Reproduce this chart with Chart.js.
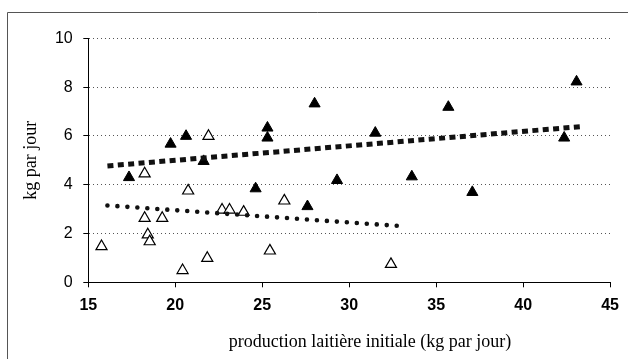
<!DOCTYPE html>
<html><head><meta charset="utf-8">
<script src="https://cdn.jsdelivr.net/npm/chart.js@4"></script>
<style>html,body{margin:0;padding:0;background:#fff}#wrap{width:628px;height:359px}</style>
</head><body><div id="wrap"><canvas id="c" width="628" height="359"></canvas></div>
<script>
// Filled triangles (series 1)
const filledX = [17.34, 19.73, 20.62, 21.63, 24.62, 25.30, 25.30, 27.60, 28.01, 29.30, 31.50, 33.60, 35.70, 37.08, 42.36, 43.07];
const filledY = [4.30, 5.67, 5.99, 4.96, 3.84, 6.33, 5.92, 3.11, 7.32, 4.18, 6.12, 4.33, 7.18, 3.69, 5.92, 8.22];
// Open triangles (series 2)
const openX = [15.76, 18.24, 18.24, 19.25, 18.42, 18.53, 20.74, 20.42, 21.91, 21.84, 22.69, 23.12, 23.93, 25.44, 26.27, 32.40];
const openY = [1.47, 4.45, 2.63, 2.63, 1.95, 1.67, 3.75, 0.49, 5.99, 0.99, 2.97, 2.97, 2.88, 1.29, 3.34, 0.74];
// Trend lines (end points)
const trendFilledX = [16.1, 43.3];
const trendFilledY = [4.77, 6.38];
const trendOpenX = [16.1, 32.85];
const trendOpenY = [3.15, 2.31];
// Ticks and labels
const xTicks = [15, 20, 25, 30, 35, 40, 45];
const yTicks = [0, 2, 4, 6, 8, 10];
const xTitle = 'production laitière initiale (kg par jour)';
const yTitle = 'kg par jour';

const pts = (xs, ys) => xs.map((x, i) => ({x: x, y: ys[i]}));

const framePlugin = {
  id: 'frame',
  beforeDraw(chart) {
    const ctx = chart.ctx;
    ctx.save();
    ctx.fillStyle = '#fff';
    ctx.fillRect(0, 0, chart.width, chart.height);
    ctx.strokeStyle = '#555';
    ctx.lineWidth = 1;
    ctx.beginPath();
    ctx.moveTo(7.5, chart.height);
    ctx.lineTo(7.5, 12.5);
    ctx.lineTo(chart.width, 12.5);
    ctx.stroke();
    ctx.restore();
  },
  afterDraw(chart) {
    const ctx = chart.ctx;
    ctx.save();
    ctx.fillStyle = '#000';
    ctx.font = '18px "Liberation Serif"';
    ctx.textAlign = 'center';
    ctx.textBaseline = 'middle';
    ctx.fillText(xTitle, 370, 342);
    ctx.restore();
  }
};

new Chart(document.getElementById('c'), {
  type: 'scatter',
  data: {
    datasets: [
      {
        data: pts(trendFilledX, trendFilledY),
        showLine: true, pointRadius: 0, borderColor: '#111', borderWidth: 5,
        borderDash: [6, 4.4], borderCapStyle: 'butt', fill: false
      },
      {
        data: pts(trendOpenX, trendOpenY),
        showLine: true, pointRadius: 0, borderColor: '#111', borderWidth: 4.6,
        borderDash: [0, 10], borderCapStyle: 'round', fill: false
      },
      {
        data: pts(filledX, filledY),
        pointStyle: 'triangle', pointRadius: 6.4, backgroundColor: '#000', borderColor: '#000', borderWidth: 1
      },
      {
        data: pts(openX, openY),
        pointStyle: 'triangle', pointRadius: 6.4, backgroundColor: '#fff', borderColor: '#000', borderWidth: 1.2
      }
    ]
  },
  options: {
    responsive: false,
    animation: false,
    devicePixelRatio: 1,
    layout: { padding: { top: 38.3, right: 17, bottom: 0, left: 0 } },
    plugins: { legend: { display: false }, tooltip: { enabled: false } },
    scales: {
      x: {
        type: 'linear', min: 15, max: 45,
        afterBuildTicks: s => { s.ticks = xTicks.map(v => ({value: v})); },
        afterFit: s => { s.height = 76.7; },
        ticks: { color: '#000', padding: 9, maxRotation: 0, autoSkip: false,
                 font: { family: 'Liberation Sans', size: 16, weight: 'bold' } },
        grid: { drawOnChartArea: false, tickLength: 5, color: '#000' },
        border: { color: '#000', width: 1 }
      },
      y: {
        type: 'linear', min: 0, max: 10,
        afterBuildTicks: s => { s.ticks = yTicks.map(v => ({value: v})); },
        afterFit: s => { s.width = 88.3; },
        ticks: { color: '#000', padding: 10.6,
                 font: { family: 'Liberation Sans', size: 16 } },
        grid: { color: '#555', tickColor: '#000', tickLength: 5 },
        border: { color: '#000', width: 1, dash: [1, 3] },
        title: { display: true, text: yTitle, color: '#000', padding: { top: 20, bottom: 0 },
                 font: { family: 'Liberation Serif', size: 18 } }
      }
    }
  },
  plugins: [framePlugin]
});
</script>
</body></html>
